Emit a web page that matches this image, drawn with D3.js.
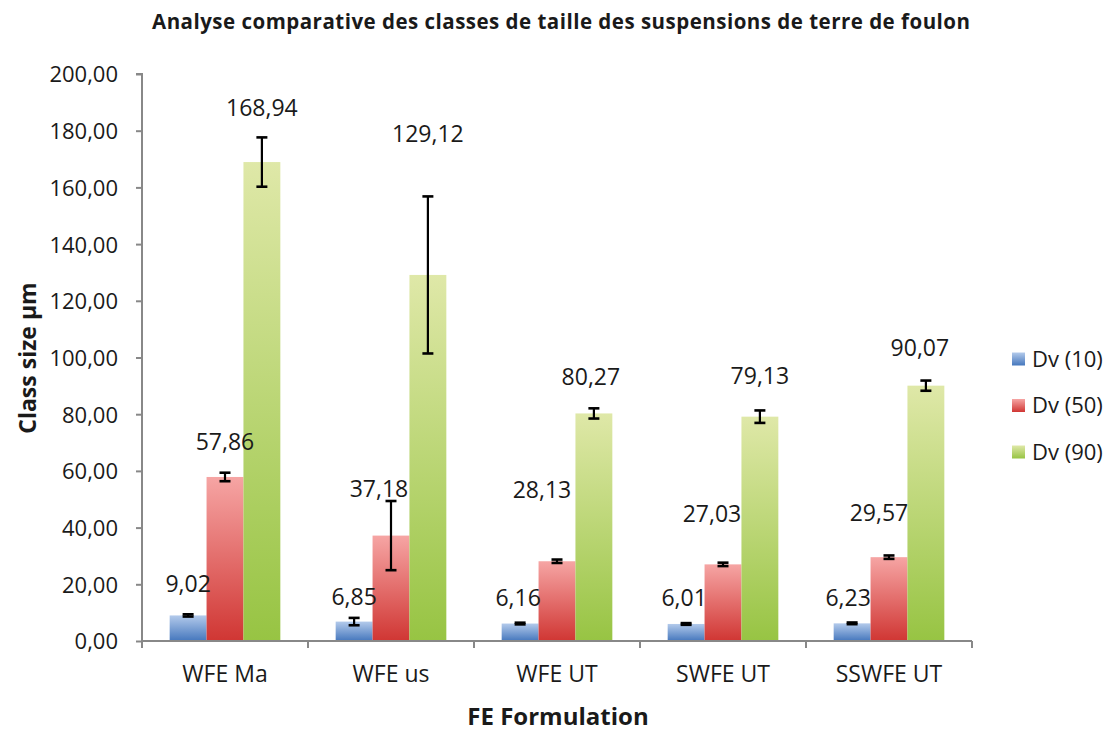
<!DOCTYPE html>
<html>
<head>
<meta charset="utf-8">
<script src="https://cdn.jsdelivr.net/npm/d3@7"></script>
<style>
  body { margin: 0; background: #fff; }
  text { font-family: "Open Sans", sans-serif; fill: #1a1a1a; }
</style>
</head>
<body>
<div id="chart"></div>
<script>
// Data
var categories = ["WFE Ma", "WFE us", "WFE UT", "SWFE UT", "SSWFE UT"];
var seriesNames = ["Dv (10)", "Dv (50)", "Dv (90)"];
var dv10 = [9.02, 6.85, 6.16, 6.01, 6.23];
var dv50 = [57.86, 37.18, 28.13, 27.03, 29.57];
var dv90 = [168.94, 129.12, 80.27, 79.13, 90.07];
var err10 = [0.4, 1.3, 0.3, 0.3, 0.3];
var err50 = [1.5, 12.2, 0.6, 0.6, 0.6];
var err90 = [8.7, 27.7, 1.8, 2.2, 1.8];
var yTicks = [0, 20, 40, 60, 80, 100, 120, 140, 160, 180, 200];

// Hand placed data labels (pixel offsets from bar top / bar centre)
var labelDy10 = [-32, -25, -26, -26, -26];
var labelDy50 = [-35, -47, -72, -51, -44];
var labelDy90 = [-54, -141, -37, -41, -38];
var labelDx10 = [0, 0, -2, -2, -4];
var labelDx50 = [0, -12, -15, -11, -10];
var labelDx90 = [0, 0, -3, 0, -6];

var svgWidth = 1112;
var svgHeight = 731;

// Plot area
var cM = { top: 74, left: 142 };
var plotRight = 972;
var plotBottom = 641;

// Colours: top / bottom of each bar gradient
var gradStops = [
  ["#b3caeb", "#4577bd"],
  ["#f6a5a4", "#d03633"],
  ["#dfe8a8", "#97c443"]
];

var svg = d3.select("#chart").append("svg")
  .attr("width", svgWidth)
  .attr("height", svgHeight);

var defs = svg.append("defs");
gradStops.forEach(function(s, i) {
  var g = defs.append("linearGradient")
    .attr("id", "grad" + i)
    .attr("x1", 0).attr("y1", 0).attr("x2", 0).attr("y2", 1);
  g.append("stop").attr("offset", "0%").attr("stop-color", s[0]);
  g.append("stop").attr("offset", "100%").attr("stop-color", s[1]);
});

// Build rows for the bars
var values = [dv10, dv50, dv90];
var errs = [err10, err50, err90];
var dys = [labelDy10, labelDy50, labelDy90];
var dxs = [labelDx10, labelDx50, labelDx90];
var rows = [];
categories.forEach(function(c, ci) {
  seriesNames.forEach(function(s, si) {
    rows.push({
      cat: c, series: s, si: si,
      value: values[si][ci], err: errs[si][ci],
      dy: dys[si][ci], dx: dxs[si][ci]
    });
  });
});

// Scales
var xScale = d3.scaleBand()
  .domain(categories)
  .range([cM.left, plotRight])
  .paddingInner(0)
  .paddingOuter(0);

var xSub = d3.scaleBand()
  .domain(seriesNames)
  .range([0, xScale.bandwidth()])
  .paddingInner(0)
  .paddingOuter(0.75);

var yScale = d3.scaleLinear()
  .domain([0, 200])
  .range([plotBottom, cM.top]);

var fmt = function(v) { return d3.format(".2f")(v).replace(".", ","); };
var barMid = function(d) { return xScale(d.cat) + xSub(d.series) + xSub.bandwidth() / 2; };

// Title
svg.append("text")
  .attr("x", 561)
  .attr("y", 29)
  .attr("text-anchor", "middle")
  .attr("textLength", 818)
  .attr("lengthAdjust", "spacing")
  .style("font-size", "20.5px")
  .style("font-weight", "bold")
  .text("Analyse comparative des classes de taille des suspensions de terre de foulon");

// Bars
svg.append("g").selectAll("rect")
  .data(rows).enter()
  .append("rect")
  .attr("x", d => xScale(d.cat) + xSub(d.series))
  .attr("y", d => yScale(d.value))
  .attr("width", xSub.bandwidth())
  .attr("height", d => plotBottom - yScale(d.value))
  .attr("fill", d => "url(#grad" + d.si + ")");

// Axes
var leftAxis = d3.axisLeft(yScale)
  .tickValues(yTicks)
  .tickFormat(fmt)
  .tickSize(6)
  .tickPadding(18);

var yAxisG = svg.append("g")
  .attr("transform", `translate(${cM.left}, 0)`)
  .call(leftAxis);

yAxisG.selectAll("text").style("font-size", "22px").attr("dy", "0.36em");

var bottomAxis = d3.axisBottom(xScale)
  .tickSize(0)
  .tickPadding(25);

var xAxisG = svg.append("g")
  .attr("transform", `translate(0, ${plotBottom})`)
  .call(bottomAxis);

xAxisG.selectAll("text").style("font-size", "23px");

// category boundary ticks
var bounds = categories.map(c => xScale(c)).concat([plotRight]);
xAxisG.selectAll(".bound")
  .data(bounds).enter()
  .append("line")
  .attr("class", "bound")
  .attr("x1", d => d).attr("x2", d => d)
  .attr("y1", 0).attr("y2", 7);

svg.selectAll(".domain, .tick line, .bound")
  .attr("stroke", "#888888")
  .attr("stroke-width", 2);
yAxisG.select(".domain").attr("d", `M-6,${cM.top}H0V${plotBottom}`);
xAxisG.select(".domain").attr("d", `M${cM.left},0H${plotRight}`);

// Error bars
var capW = 11;
var eb = svg.append("g").selectAll("g")
  .data(rows).enter()
  .append("g")
  .attr("stroke", "#000")
  .attr("stroke-width", 2.2);

eb.append("line")
  .attr("x1", barMid)
  .attr("x2", barMid)
  .attr("y1", d => yScale(d.value + d.err))
  .attr("y2", d => yScale(d.value - d.err));

eb.selectAll(".cap")
  .data(d => [d.value + d.err, d.value - d.err].map(v => ({ r: d, v: v })))
  .enter()
  .append("line")
  .attr("class", "cap")
  .attr("x1", d => barMid(d.r) - capW / 2)
  .attr("x2", d => barMid(d.r) + capW / 2)
  .attr("y1", d => yScale(d.v))
  .attr("y2", d => yScale(d.v))
  .attr("stroke-width", 2.6);

// Data labels
svg.append("g").selectAll("text")
  .data(rows).enter()
  .append("text")
  .attr("x", d => barMid(d) + d.dx)
  .attr("y", d => yScale(d.value) + d.dy)
  .attr("dy", "0.36em")
  .attr("text-anchor", "middle")
  .style("font-size", "23px")
  .text(d => fmt(d.value));

// Axis titles
svg.append("text")
  .attr("transform", "rotate(-90)")
  .attr("x", -358)
  .attr("y", 36)
  .attr("text-anchor", "middle")
  .style("font-size", "23px")
  .style("font-weight", "bold")
  .text("Class size µm");

svg.append("text")
  .attr("x", 558)
  .attr("y", 725)
  .attr("text-anchor", "middle")
  .style("font-size", "24px")
  .style("font-weight", "bold")
  .text("FE Formulation");

// Legend
var legend = svg.append("g").selectAll("g")
  .data(seriesNames).enter()
  .append("g")
  .attr("transform", (d, i) => `translate(1012, ${359 + i * 46.5})`);

legend.append("rect")
  .attr("x", 0).attr("y", -6.5)
  .attr("width", 13).attr("height", 13)
  .attr("fill", (d, i) => "url(#grad" + i + ")");

legend.append("text")
  .attr("x", 20)
  .attr("dy", "0.36em")
  .style("font-size", "22px")
  .text(d => d);
</script>
</body>
</html>
